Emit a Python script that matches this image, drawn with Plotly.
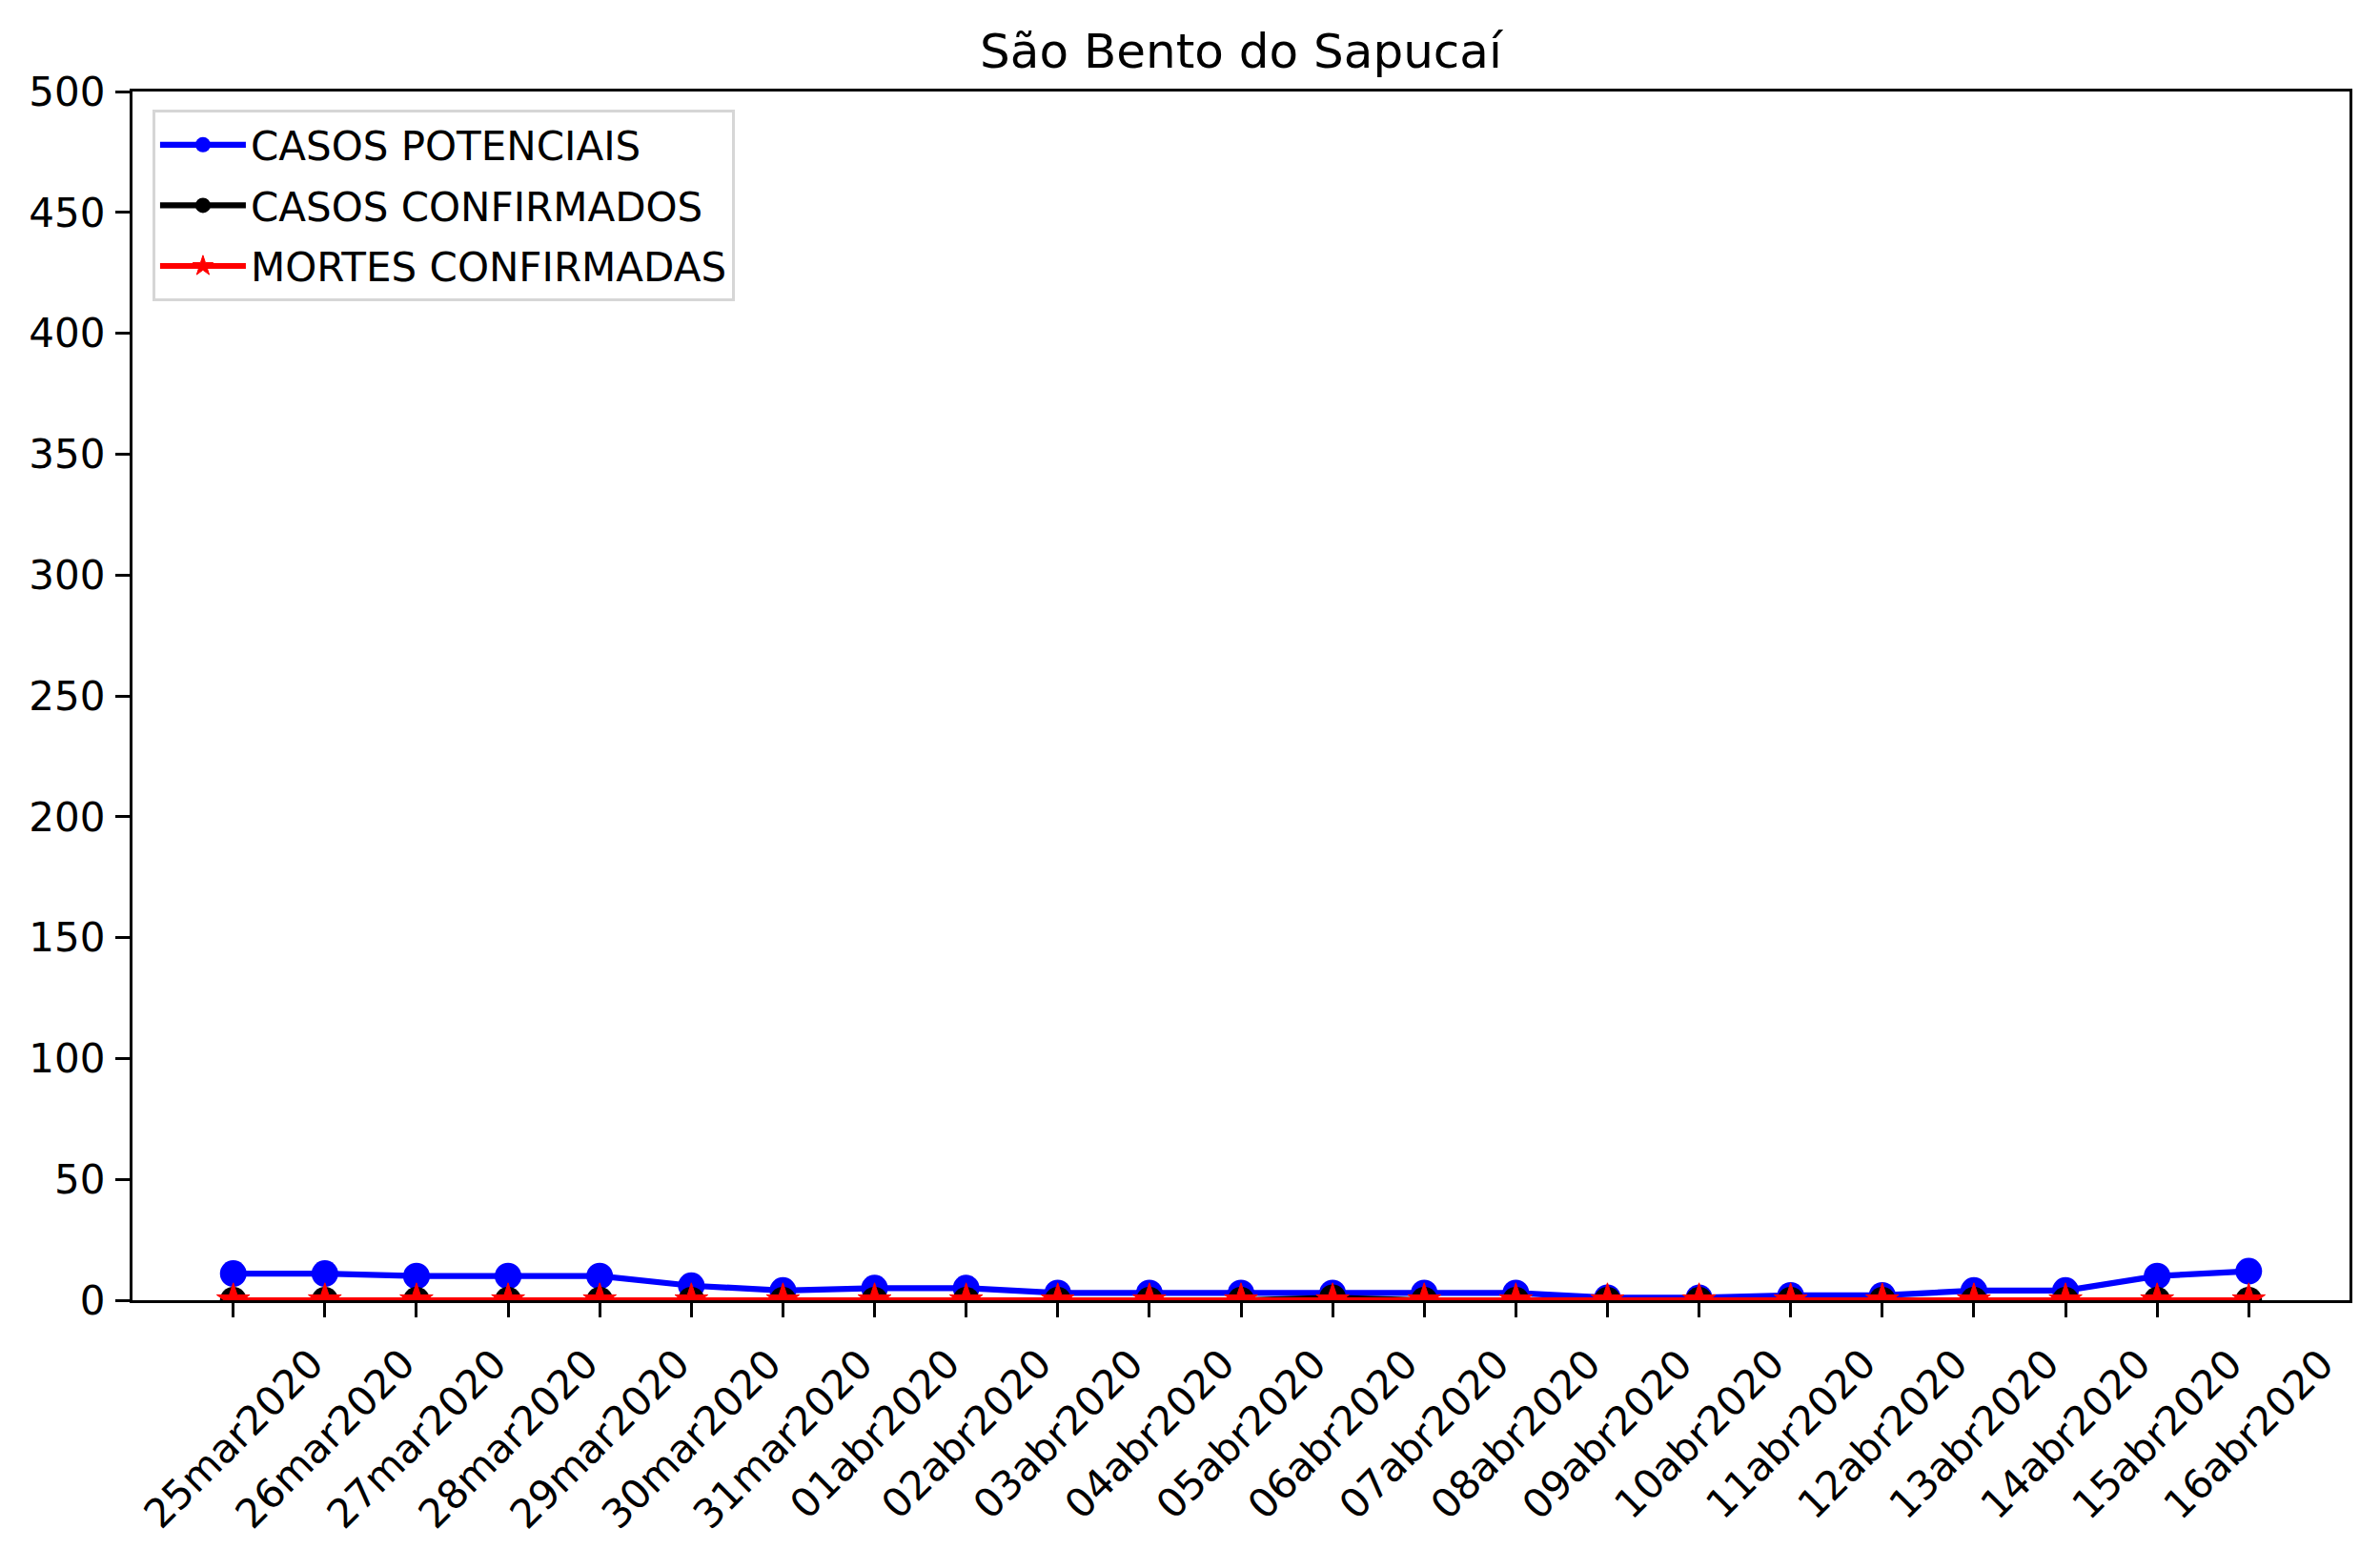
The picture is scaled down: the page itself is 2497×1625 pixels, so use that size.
import plotly.graph_objects as go

dates = ["25mar2020", "26mar2020", "27mar2020", "28mar2020", "29mar2020", "30mar2020",
         "31mar2020", "01abr2020", "02abr2020", "03abr2020", "04abr2020", "05abr2020",
         "06abr2020", "07abr2020", "08abr2020", "09abr2020", "10abr2020", "11abr2020",
         "12abr2020", "13abr2020", "14abr2020", "15abr2020", "16abr2020"]
casos_potenciais = [11, 11, 10, 10, 10, 6, 4, 5, 5, 3, 3, 3, 3, 3, 3, 1, 1, 2, 2, 4, 4, 10, 12]
casos_confirmados = [0, 0, 0, 0, 0, 0, 0, 0, 0, 0, 0, 0, 1, 0, 0, 0, 0, 0, 0, 0, 0, 0, 0]
mortes_confirmadas = [0] * 23
y_ticks = [0, 50, 100, 150, 200, 250, 300, 350, 400, 450, 500]
title = "São Bento do Sapucaí"

FONT = "DejaVu Sans"
W, H = 2497, 1625
L, R, T, B = 139, 32, 96, 261

fig = go.Figure()
fig.add_trace(go.Scatter(x=dates, y=casos_potenciais, name="CASOS POTENCIAIS", mode="lines+markers",
                         legendgroup="g1",
                         line=dict(color="#0000ff", width=6.2),
                         marker=dict(symbol="circle", size=28, color="#0000ff", line=dict(width=0))))
fig.add_trace(go.Scatter(x=dates, y=casos_confirmados, name="CASOS CONFIRMADOS", mode="lines+markers",
                         legendgroup="g2",
                         line=dict(color="#000000", width=6.2),
                         marker=dict(symbol="circle", size=28, color="#000000", line=dict(width=0))))
fig.add_trace(go.Scatter(x=dates, y=mortes_confirmadas, name="MORTES CONFIRMADAS", mode="lines+markers",
                         legendgroup="g3",
                         line=dict(color="#ff0000", width=6.2),
                         marker=dict(symbol="star", size=26, color="#ff0000", line=dict(width=1, color="#ff0000"))))

# rotated, centred date labels (matplotlib style)
for d in dates:
    fig.add_annotation(x=d, xref="x", y=0, yref="paper", yshift=-39,
                       text=d, textangle=-45, showarrow=False,
                       xanchor="center", yanchor="top",
                       font=dict(family=FONT, size=42, color="black"))

axis_common = dict(showline=True, mirror=True, linecolor="black", linewidth=3.3,
                   ticks="outside", ticklen=15, tickwidth=3.3, tickcolor="black",
                   showgrid=False, zeroline=False,
                   tickfont=dict(family=FONT, size=42, color="black"))

fig.update_xaxes(type="category", range=[-1.1, 23.1], showticklabels=False, **axis_common)
fig.update_yaxes(range=[0, 500], tickmode="array", tickvals=y_ticks,
                 ticktext=[str(v) for v in y_ticks], ticklabelstandoff=2, **axis_common)

fig.update_layout(
    width=W, height=H,
    margin=dict(l=L, r=R, t=T, b=B, autoexpand=False),
    paper_bgcolor="white", plot_bgcolor="white",
    title=dict(text=title, x=0.5, xref="paper", xanchor="center",
               y=1, yref="paper", yanchor="bottom", pad=dict(b=25),
               font=dict(family=FONT, size=50, color="black")),
    legend=dict(x=0.009, y=0.985, xanchor="left", yanchor="top",
                bgcolor="rgba(255,255,255,0.8)", bordercolor="#d6d6d6", borderwidth=3,
                font=dict(family=FONT, size=42, color="black"),
                itemwidth=90, tracegroupgap=6),
    showlegend=True,
)

fig.write_html("out.html")
